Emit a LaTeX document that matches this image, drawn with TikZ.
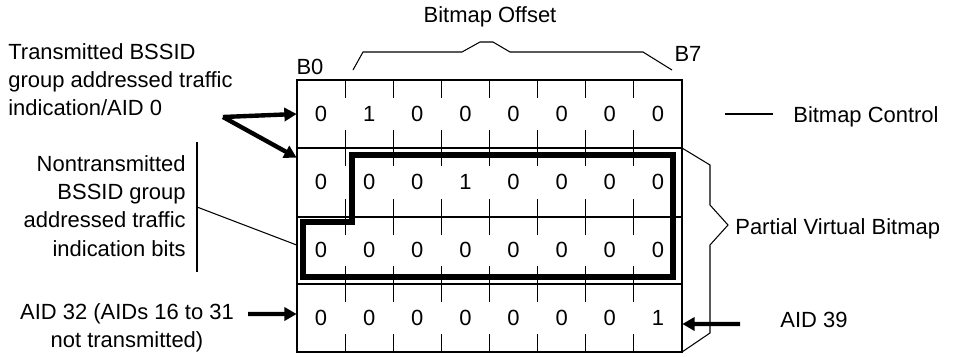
\documentclass[tikz,border=0pt]{standalone}
\usepackage{fontspec}
\setmainfont{Liberation Sans}
\usepackage{tikz}
\usetikzlibrary{arrows.meta,positioning}
\definecolor{bmInk}{RGB}{0,0,0}

\begin{document}
\begin{tikzpicture}[
  x=0.02cm,y=-0.02cm,
  every node/.style={font=\fontsize{12.5}{16}\selectfont,text=bmInk},
  grid/.style ={draw=bmInk,line width=0.6pt},
  bit/.style  ={minimum width=0.9625cm,minimum height=1.36cm,inner sep=0pt},
  group/.style={draw=bmInk,line width=2.9pt,line join=miter},
  brace/.style={draw=bmInk,line width=0.6pt},
  pointer/.style={draw=bmInk,line width=2.5pt,
                  -{Triangle[length=7pt,width=7.5pt]}},
  label/.style={align=left,inner sep=0pt}
]
\useasboundingbox (0,0) rectangle (954,356);

\draw[grid] (297,80) rectangle (682,352);
\foreach \y in {148,217,284}
  \draw[grid] (297,\y) -- (682,\y);
\foreach \k in {1,...,7}{
  \draw[grid] ({297+48.125*\k},80) -- ++(0,18);
  \foreach \y in {148,217,284}
    \draw[grid] ({297+48.125*\k},\y-18) -- ({297+48.125*\k},\y+18);
  \draw[grid] ({297+48.125*\k},352) -- ++(0,-18);
}

\foreach \r/\bits in {1/{0,1,0,0,0,0,0,0},2/{0,0,0,1,0,0,0,0},
                      3/{0,0,0,0,0,0,0,0},4/{0,0,0,0,0,0,0,1}}
  \foreach \b [count=\c] in \bits
    \node[bit] (c\r\c) at ({297+48.125*(\c-0.5)},{80+68*(\r-0.5)}) {\b};

\draw[group] (303,277) -- (303,222) -- (352,222) -- (352,155)
             -- (673,155) -- (673,277) -- cycle;

\node (b0) at (310,67) {B0};
\node (b7) at (688,54) {B7};
\draw[brace] (353,70) -- (363,52) -- (462,52) -- (480,42) -- (493,42)
             -- (510,52) -- (643,52) -- (672,70);
\node (offset) at (490,17) {Bitmap Offset};

\coordinate (ctl) at (725,114);
\node[label,anchor=west] (control) at (793,117) {Bitmap Control};
\draw[brace] (ctl) -- ++(48,0);

\draw[brace] (682,148) -- (710,165) -- (710,205) -- (728,225)
             -- (710,245) -- (710,333) -- (682,352);
\node[label,anchor=west] (pvb) at (735,229) {Partial Virtual Bitmap};

\node[label,anchor=west] (trans) at (8,80)
  {Transmitted BSSID\\group addressed traffic\\indication/AID 0};
\coordinate (tA) at (223,117);
\draw[pointer] (tA) -- (c11.west);
\draw[pointer] (tA) -- ([yshift=-0.2cm]c21.north west);

\node[label,align=right,anchor=east] (nontrans) at (186,206)
  {Nontransmitted\\BSSID group\\addressed traffic\\indication bits};
\draw[brace] (197,142) -- (197,272);
\coordinate (nB) at (197,207);
\draw[brace] (nB) -- ([yshift=0.1cm]c31.west);

\node[label,align=center] (aid32) at (127,328)
  {AID 32 (AIDs 16 to 31\\not transmitted)};
\draw[pointer] (248,314) -- ([yshift=0.08cm]c41.west);

\node[label,anchor=west] (aid39) at (780,320) {AID 39};
\draw[pointer] (740,324) -- ([yshift=-0.12cm]c48.east);
\end{tikzpicture}
\end{document}
